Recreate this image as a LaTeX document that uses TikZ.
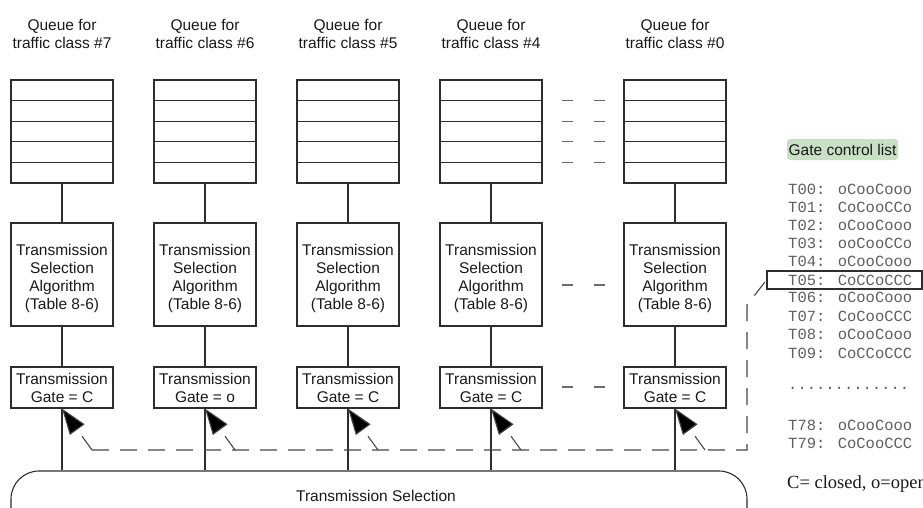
\documentclass[tikz,border=0pt]{standalone}
\usepackage{fontspec}
\setmainfont{Liberation Sans}
\newfontfamily\gclmono{Liberation Mono}
\newfontfamily\gclserif{Liberation Serif}
\usetikzlibrary{arrows.meta}
\definecolor{linec}{RGB}{45,45,45}
\definecolor{dashc}{RGB}{70,70,70}
\definecolor{gclgreen}{RGB}{200,224,196}
\definecolor{monoc}{RGB}{95,95,95}
\begin{document}
\begin{tikzpicture}[x=1pt,y=-1pt,
  every node/.style={font=\fontsize{15.5}{18}\selectfont, text=black!90},
  box/.style={draw=linec, line width=1.1pt, minimum width=102pt, inner sep=0pt, align=center},
  conn/.style={draw=linec, line width=1.1pt},
  dashline/.style={draw=dashc, line width=1.1pt, dash pattern=on 17pt off 11pt},
  gatearrow/.style={dashline, -{Triangle[length=26pt,width=18pt,fill=black]}},
  shortdash/.style={draw=dashc!80, line width=1.1pt},
  monotext/.style={anchor=west, inner sep=0pt, font=\gclmono\fontsize{15.5}{18}\selectfont, text=monoc}
]
\useasboundingbox (0,0) rectangle (923,507);
\clip (0,0) rectangle (923,507);

% transmission selection
\node[draw=linec, line width=1.1pt, rounded corners=28pt, minimum width=736pt, minimum height=70pt, inner sep=0pt] (sel) at (379,506) {};
\node (seltext) at (376,496) {Transmission Selection};

\foreach \cx/\id/\g in {62/7/C, 205/6/o, 348/5/C, 491/4/C, 675/0/C} {
  \node[align=center, inner sep=0pt] (lab\id) at (\cx,34) {Queue for\\traffic class \#\id};
  \node[box, minimum height=103pt] (q\id) at (\cx,131.5) {};
  \foreach \ry in {100.6,121.2,141.8,162.4}
    \draw[conn] ({\cx-51},\ry) -- ({\cx+51},\ry);
  \node[box, minimum height=103pt] (t\id) at (\cx,274.5) {};
  \node[align=center, inner sep=0pt] (tt\id) at (\cx,278.5) {Transmission\\Selection\\Algorithm\\(Table 8-6)};
  \node[box, minimum height=41pt] (g\id) at (\cx,387.5) {Transmission\\Gate = \g};
  \draw[conn] (q\id.south) -- (t\id.north);
  \draw[conn] (t\id.south) -- (g\id.north);
  \draw[conn] (g\id.south) -- (g\id.south |- sel.north);
  \coordinate (a\id) at ({\cx+30},450);
  \draw[gatearrow] (a\id) -- (g\id.south);
}

% ellipsis dashes between #4 and #0
\foreach \ry in {100.6,121.2,141.8,162.4,285,387} {
  \draw[shortdash] (562,\ry) -- (573,\ry);
  \draw[shortdash] (594,\ry) -- (605,\ry);
}

% gate control list
\node[fill=gclgreen, rounded corners=3pt, minimum width=111pt, minimum height=21pt, inner sep=0pt] (gcltitle) at (842.5,149.5) {Gate control list};

\node[monotext] (l00) at (788,189) {T00: oCooCooo};
\node[monotext] (l01) at (788,207) {T01: CoCooCCo};
\node[monotext] (l02) at (788,225) {T02: oCooCooo};
\node[monotext] (l03) at (788,243) {T03: ooCooCCo};
\node[monotext] (l04) at (788,261.5) {T04: oCooCooo};
\node[monotext] (l05) at (788,280) {T05: CoCCoCCC};
\node[monotext] (l06) at (788,297.5) {T06: oCooCooo};
\node[monotext] (l07) at (788,316) {T07: CoCooCCC};
\node[monotext] (l08) at (788,334) {T08: oCooCooo};
\node[monotext] (l09) at (788,353) {T09: CoCCoCCC};
\node[monotext] (ldots) at (788,388) {.............};
\node[monotext] (l78) at (788,425) {T78: oCooCooo};
\node[monotext] (l79) at (788,443) {T79: CoCooCCC};
\node[anchor=west, inner sep=0pt, font=\gclserif\fontsize{18.5}{22}\selectfont] (legend) at (787,484) {C= closed, o=open};

\node[draw=linec, line width=1.1pt, minimum width=155pt, minimum height=18pt, inner sep=0pt] (t05box) at (844.5,280) {};

% control path
\coordinate (c1) at (92,450);
\coordinate (c2) at (747,450);
\coordinate (c3) at (747,305);
\draw[dashline] (c1) -- (c2) -- (c3) -- (t05box.west);
\end{tikzpicture}
\end{document}
